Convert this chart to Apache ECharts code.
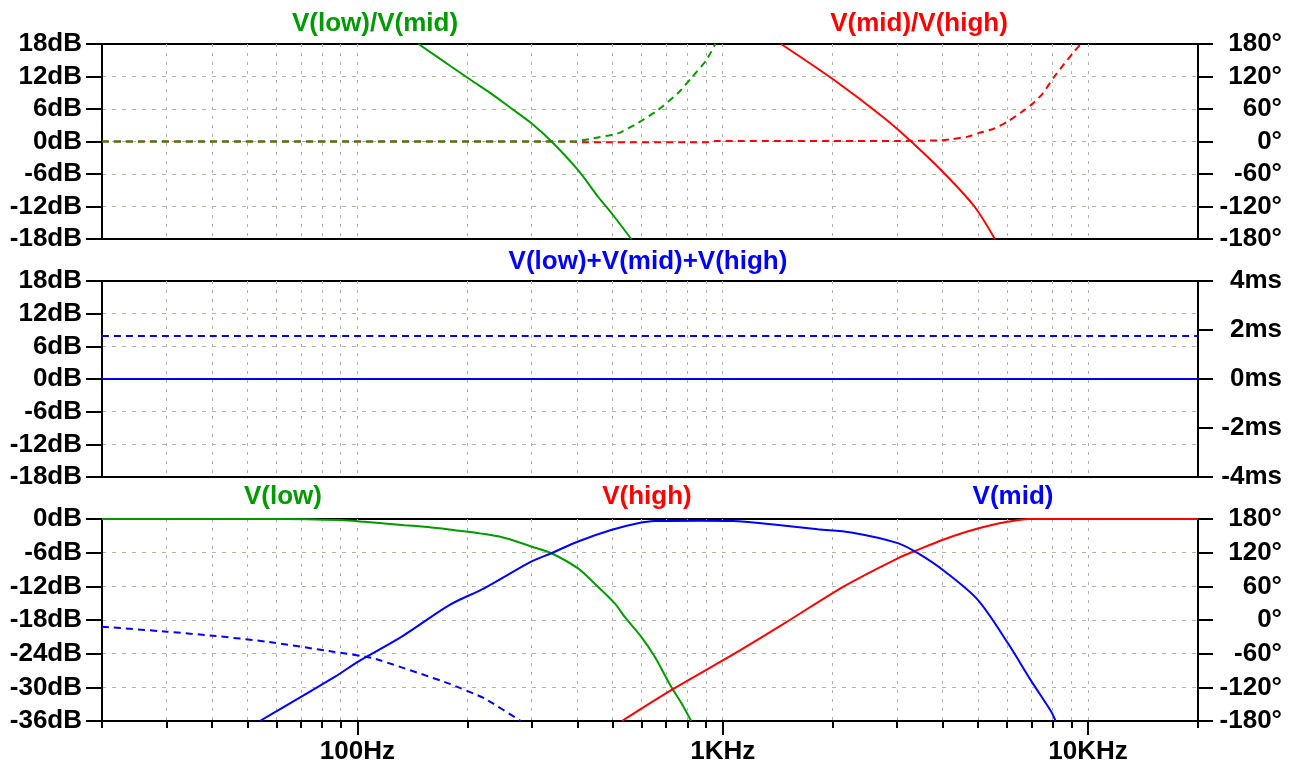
<!DOCTYPE html>
<html><head><meta charset="utf-8">
<script src="https://cdn.jsdelivr.net/npm/echarts@6/dist/echarts.min.js"></script>
<style>html,body{margin:0;padding:0;background:#fff}#c{width:1294px;height:767px}</style>
</head><body><div id="c"></div>
<script>
const FONT = '"Liberation Sans", Arial, sans-serif';
const GREEN = '#009a00', RED = '#ff0000', BLUE = '#0000ff';

// ---- frequency axis (Hz) ----
const xMinHz = 20, xMaxHz = 20000;
const xTickHz = [100, 1000, 10000];
const xTickLabels = ['100Hz', '1KHz', '10KHz'];
const xMinorTickHz = [20, 30, 40, 50, 60, 70, 80, 90, 100, 200, 300, 400, 500, 600, 700, 800, 900,
  1000, 2000, 3000, 4000, 5000, 6000, 7000, 8000, 9000, 10000, 20000];

// ---- pane 1: V(low)/V(mid) and V(mid)/V(high) ----
const lowMidMagHz = [147, 181, 205, 233, 264, 299, 340, 402, 456, 496, 562];
const lowMidMagDb = [18, 13.8, 11.3, 8.8, 6.1, 3.4, 0, -5.3, -10.2, -13.2, -18];
const lowMidPhHz = [20, 100, 300, 390, 436, 517, 586, 665, 754, 820, 902, 955];
const lowMidPhDeg = [0, 0, 0, 0, 5, 15, 34, 58, 89, 117, 150, 180];
const midHighMagHz = [1445, 2023, 2773, 3281, 4046, 4887, 5560];
const midHighMagDb = [18, 11.3, 4.3, 0, -5.9, -12.0, -18];
const midHighPhHz = [20, 380, 420, 900, 960, 3000, 3900, 4217, 4688, 4992, 5543, 6032, 6696, 7063, 7522, 8093, 8617, 9085, 9550];
const midHighPhDeg = [0, 0, -1.5, -1.5, 1, 1, 2, 4, 9, 15, 24, 37, 58, 70, 89, 120, 144, 163, 180];

// ---- pane 2: V(low)+V(mid)+V(high) ----
const sumHz = [20, 200, 2000, 20000];
const sumMagDb = [0, 0, 0, 0];
const sumDelayMs = [1.76, 1.76, 1.76, 1.76];

// ---- pane 3: V(low), V(mid), V(high) ----
const lowHz = [20, 60, 90, 104.5, 134.6, 159.4, 180.6, 247.6, 299.2, 339.5, 401.7, 446, 505.8, 538.7, 598.6, 651.2, 722.9, 770.5, 820];
const lowDb = [0, 0, -0.2, -0.5, -1.1, -1.5, -1.9, -3.2, -4.9, -6.1, -8.8, -11.5, -15.0, -17.4, -21.0, -24.5, -29.9, -32.8, -36];
const midHz = [54.1, 86.9, 100.5, 132, 179, 223, 299, 339.5, 402, 495, 586, 651, 873, 1066, 1358, 1821, 2248, 3016, 3421, 4046, 4992, 6032, 6982, 7925, 8150];
const midDb = [-36, -28.1, -25.4, -21.0, -15.3, -12.3, -7.6, -6.1, -4.0, -1.96, -0.77, -0.36, -0.3, -0.36, -0.95, -1.84, -2.4, -4.3, -6.1, -9.3, -14.4, -22.1, -28.8, -34.3, -36];
const highHz = [530, 723, 1077, 1475, 2148, 3016, 3421, 4046, 4992, 6032, 6900, 20000];
const highDb = [-36, -30.5, -24.0, -18.6, -12.0, -7.0, -5.5, -3.6, -1.7, -0.5, 0, 0];
const midPhHz = [20, 30.1, 40.3, 56.5, 86, 110.6, 177.5, 222.6, 280];
const midPhDeg = [-11.9, -20.8, -28, -38.7, -56.5, -68.3, -112.9, -139.6, -180];

const L = v => Math.log10(v);
const zip = (hz, vals) => hz.map((f, i) => [L(f), vals[i]]);
const xLabel = v => {
  for (let k = 0; k < xTickHz.length; k++) if (Math.abs(L(xTickHz[k]) - v) < 1e-6) return xTickLabels[k];
  return '';
};

const gridDefs = [
  { top: 44, height: 195 },
  { top: 281, height: 196 },
  { top: 519, height: 202 }
];
const grid = gridDefs.map(g => ({ left: 102, right: 96, top: g.top, height: g.height, show: true, borderColor: '#000', borderWidth: 2, backgroundColor: 'transparent' }));

const labelStyle = { color: '#000', fontSize: 26, fontWeight: 'bold', fontFamily: FONT };
const xAxis = [];
for (let i = 0; i < 3; i++) {
  const bottom = i === 2;
  xAxis.push({
    type: 'value', gridIndex: i, min: L(xMinHz), max: L(xMaxHz), position: 'bottom',
    axisLine: { show: true, onZero: false, lineStyle: { color: '#000', width: 2 } },
    axisTick: { show: bottom, customValues: xTickHz.map(L), length: 14, lineStyle: { color: '#000', width: 2 } },
    axisLabel: Object.assign({ show: bottom, customValues: xTickHz.map(L), formatter: xLabel, margin: 18 }, labelStyle),
    splitLine: { show: false }
  });
}
for (let i = 0; i < 3; i++) {
  xAxis.push({
    type: 'value', gridIndex: i, min: L(xMinHz), max: L(xMaxHz), position: 'bottom',
    axisLine: { show: false, onZero: false },
    axisTick: { show: i === 2, customValues: xMinorTickHz.map(L), length: 7, lineStyle: { color: '#000', width: 2 } },
    axisLabel: { show: false },
    splitLine: { show: true, showMinLine: false, showMaxLine: false, lineStyle: { color: '#b0b0b8', type: [3, 6], width: 1 } }
  });
}

function yAx(i, pos, min, max, interval, unit, split) {
  return {
    type: 'value', gridIndex: i, position: pos, min, max, interval,
    axisLine: { show: true, onZero: false, lineStyle: { color: '#000', width: 2 } },
    axisTick: { show: true, length: pos === 'left' ? 16 : 15, lineStyle: { color: '#000', width: 2 } },
    axisLabel: Object.assign({ margin: pos === 'left' ? 20 : 84, align: 'right', formatter: v => v + unit }, labelStyle),
    splitLine: { show: split, showMinLine: false, showMaxLine: false, lineStyle: { color: '#b4b4a2', type: [4, 6], width: 1 } }
  };
}
const yAxis = [
  yAx(0, 'left', -18, 18, 6, 'dB', true),
  yAx(0, 'right', -180, 180, 60, '°', false),
  yAx(1, 'left', -18, 18, 6, 'dB', true),
  yAx(1, 'right', -4, 4, 2, 'ms', false),
  yAx(2, 'left', -36, 0, 6, 'dB', true),
  yAx(2, 'right', -180, 180, 60, '°', false)
];

const ser = (name, xi, yi, data, color, dashed) => ({
  type: 'line', name, xAxisIndex: xi, yAxisIndex: yi, data, showSymbol: false, symbol: 'none',
  smooth: dashed ? 0.15 : 0.3, clip: true, silent: true,
  lineStyle: { color, width: 2, type: dashed ? [7, 5] : 'solid' }, itemStyle: { color }, z: dashed ? 3 : 4
});

const series = [
  ser('V(mid)/V(high) phase', 0, 1, zip(midHighPhHz, midHighPhDeg), RED, true),
  ser('V(low)/V(mid) phase', 0, 1, zip(lowMidPhHz, lowMidPhDeg), GREEN, true),
  ser('V(low)/V(mid)', 0, 0, zip(lowMidMagHz, lowMidMagDb), GREEN, false),
  ser('V(mid)/V(high)', 0, 0, zip(midHighMagHz, midHighMagDb), RED, false),
  ser('sum delay', 1, 3, zip(sumHz, sumDelayMs), BLUE, true),
  ser('V(low)+V(mid)+V(high)', 1, 2, zip(sumHz, sumMagDb), BLUE, false),
  ser('V(mid) phase', 2, 5, zip(midPhHz, midPhDeg), BLUE, true),
  ser('V(low)', 2, 4, zip(lowHz, lowDb), GREEN, false),
  ser('V(high)', 2, 4, zip(highHz, highDb), RED, false),
  ser('V(mid)', 2, 4, zip(midHz, midDb), BLUE, false)
];

const titleDefs = [
  ['V(low)/V(mid)', 375, 24, GREEN],
  ['V(mid)/V(high)', 919, 24, RED],
  ['V(low)+V(mid)+V(high)', 648, 262, BLUE],
  ['V(low)', 283, 497, GREEN],
  ['V(high)', 647, 497, RED],
  ['V(mid)', 1013, 497, BLUE]
];
const graphic = titleDefs.map(t => ({
  type: 'text', x: t[1], y: t[2], silent: true,
  style: { text: t[0], fill: t[3], font: 'bold 26px ' + FONT, align: 'center', verticalAlign: 'middle', textAlign: 'center', textVerticalAlign: 'middle' }
}));

const chart = echarts.init(document.getElementById('c'), null, { renderer: 'canvas' });
chart.setOption({ animation: false, backgroundColor: '#fff', grid, xAxis, yAxis, series, graphic });
</script></body></html>
